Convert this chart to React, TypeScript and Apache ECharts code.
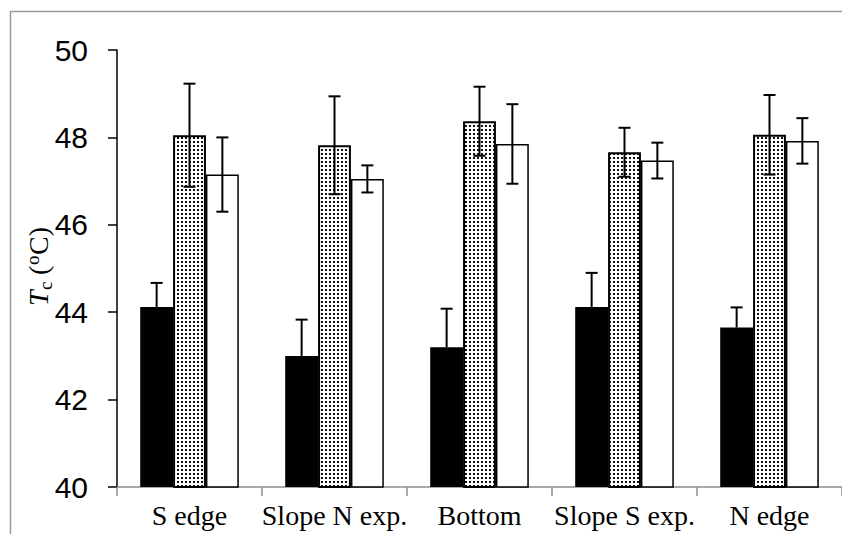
import React, { useEffect, useRef } from "react";
import * as echarts from "echarts";

const categories = ["S edge", "Slope N exp.", "Bottom", "Slope S exp.", "N edge"];
const blackValues = [44.12, 43.0, 43.2, 44.12, 43.65];
const blackErrors = [0.55, 0.83, 0.88, 0.78, 0.46];
const dottedValues = [48.05, 47.82, 48.37, 47.66, 48.06];
const dottedErrors = [1.18, 1.12, 0.79, 0.56, 0.91];
const whiteValues = [47.15, 47.05, 47.85, 47.47, 47.92];
const whiteErrors = [0.85, 0.31, 0.91, 0.41, 0.52];
const yTicks = { min: 40, max: 50, interval: 2 };

const GAP = 0.32;

function makeDots(): HTMLCanvasElement {
  const c = document.createElement("canvas");
  c.width = 4;
  c.height = 4;
  const ctx = c.getContext("2d")!;
  ctx.fillStyle = "#ffffff";
  ctx.fillRect(0, 0, 4, 4);
  ctx.fillStyle = "#111111";
  ctx.fillRect(1, 1, 2, 2);
  return c;
}

function errSeries(idx: number, vals: number[], errs: number[], oneSided: boolean) {
  return {
    type: "custom",
    z: 10,
    silent: true,
    data: categories.map((_, i) => [i, vals[i], errs[i]]),
    encode: { x: 0, y: 1 },
    renderItem: (params: any, api: any) => {
      const ci = api.value(0);
      const v = api.value(1);
      const e = api.value(2);
      const band = api.size([1, 0])[0];
      const bw = (band * (1 - GAP)) / 3;
      const base = api.coord([ci, v]);
      const x = base[0] + (idx - 1) * bw;
      const top = api.coord([ci, v + e])[1];
      const bottom = oneSided ? base[1] : api.coord([ci, v - e])[1];
      const cap = 6;
      const st = { stroke: "#000", lineWidth: 2 };
      const children: any[] = [
        { type: "line", shape: { x1: x, y1: top, x2: x, y2: bottom }, style: st },
        { type: "line", shape: { x1: x - cap, y1: top, x2: x + cap, y2: top }, style: st },
      ];
      if (!oneSided) {
        children.push({ type: "line", shape: { x1: x - cap, y1: bottom, x2: x + cap, y2: bottom }, style: st });
      }
      return { type: "group", children };
    },
  };
}

const serif = "Liberation Serif";

export default function App() {
  const ref = useRef<HTMLDivElement>(null);
  useEffect(() => {
    if (!ref.current) return;
    const chart = echarts.init(ref.current, undefined, { renderer: "svg" });
    const dots = makeDots();
    chart.setOption({
      animation: false,
      backgroundColor: "#fff",
      grid: { left: 117, right: 0, top: 50, bottom: 47, containLabel: false },
      xAxis: {
        type: "category",
        data: categories,
        axisLine: { lineStyle: { color: "#8c8c8c", width: 1.5 } },
        axisTick: { show: true, length: 9, interval: 0, lineStyle: { color: "#8c8c8c", width: 1.5 } },
        axisLabel: {
          color: "#000",
          fontFamily: serif,
          fontSize: 28,
          margin: 14,
          interval: 0,
        },
      },
      yAxis: {
        type: "value",
        min: yTicks.min,
        max: yTicks.max,
        interval: yTicks.interval,
        splitLine: { show: false },
        axisLine: { show: true, lineStyle: { color: "#000", width: 1.5 } },
        axisTick: { show: true, length: 9, lineStyle: { color: "#000", width: 1.5 } },
        axisLabel: {
          color: "#000",
          fontFamily: "Liberation Sans",
          fontSize: 30,
          margin: 29,
        },
      },
      graphic: [
        {
          type: "rect",
          shape: { x: 10.5, y: 11.5, width: 1000, height: 1000 },
          style: { fill: "none", stroke: "#9a9a9a", lineWidth: 1.5 },
          silent: true,
          z: 100,
        },
        {
          type: "group",
          x: 38,
          y: 266,
          rotation: Math.PI / 2,
          children: [
            {
              type: "text",
              x: -40,
              y: 0,
              style: { text: "T", fontFamily: serif, fontStyle: "italic", fontSize: 28, fill: "#000", verticalAlign: "middle" },
            },
            {
              type: "text",
              x: -24,
              y: 7,
              style: { text: "c", fontFamily: serif, fontSize: 19, fill: "#000", verticalAlign: "middle" },
            },
            {
              type: "text",
              x: -9,
              y: 0,
              style: { text: "(", fontFamily: serif, fontSize: 28, fill: "#000", verticalAlign: "middle" },
            },
            {
              type: "text",
              x: 1,
              y: -6,
              style: { text: "o", fontFamily: serif, fontSize: 19, fill: "#000", verticalAlign: "middle" },
            },
            {
              type: "text",
              x: 11,
              y: 0,
              style: { text: "C)", fontFamily: serif, fontSize: 28, fill: "#000", verticalAlign: "middle" },
            },
          ],
        },
      ],
      series: [
        {
          type: "bar",
          data: blackValues,
          barGap: "0%",
          barCategoryGap: GAP * 100 + "%",
          itemStyle: { color: "#000" },
        },
        {
          type: "bar",
          data: dottedValues,
          barGap: "0%",
          barCategoryGap: GAP * 100 + "%",
          itemStyle: {
            color: { image: dots, repeat: "repeat", imageWidth: 4, imageHeight: 4 } as any,
            borderColor: "#000",
            borderWidth: 2,
          },
        },
        {
          type: "bar",
          data: whiteValues,
          barGap: "0%",
          barCategoryGap: GAP * 100 + "%",
          itemStyle: { color: "#fff", borderColor: "#000", borderWidth: 1.5 },
        },
        errSeries(0, blackValues, blackErrors, true),
        errSeries(1, dottedValues, dottedErrors, false),
        errSeries(2, whiteValues, whiteErrors, false),
      ],
    });
    return () => chart.dispose();
  }, []);
  return (
    <div
      ref={ref}
      style={{ position: "fixed", left: 0, top: 0, width: 842, height: 534, background: "#fff" }}
    />
  );
}
